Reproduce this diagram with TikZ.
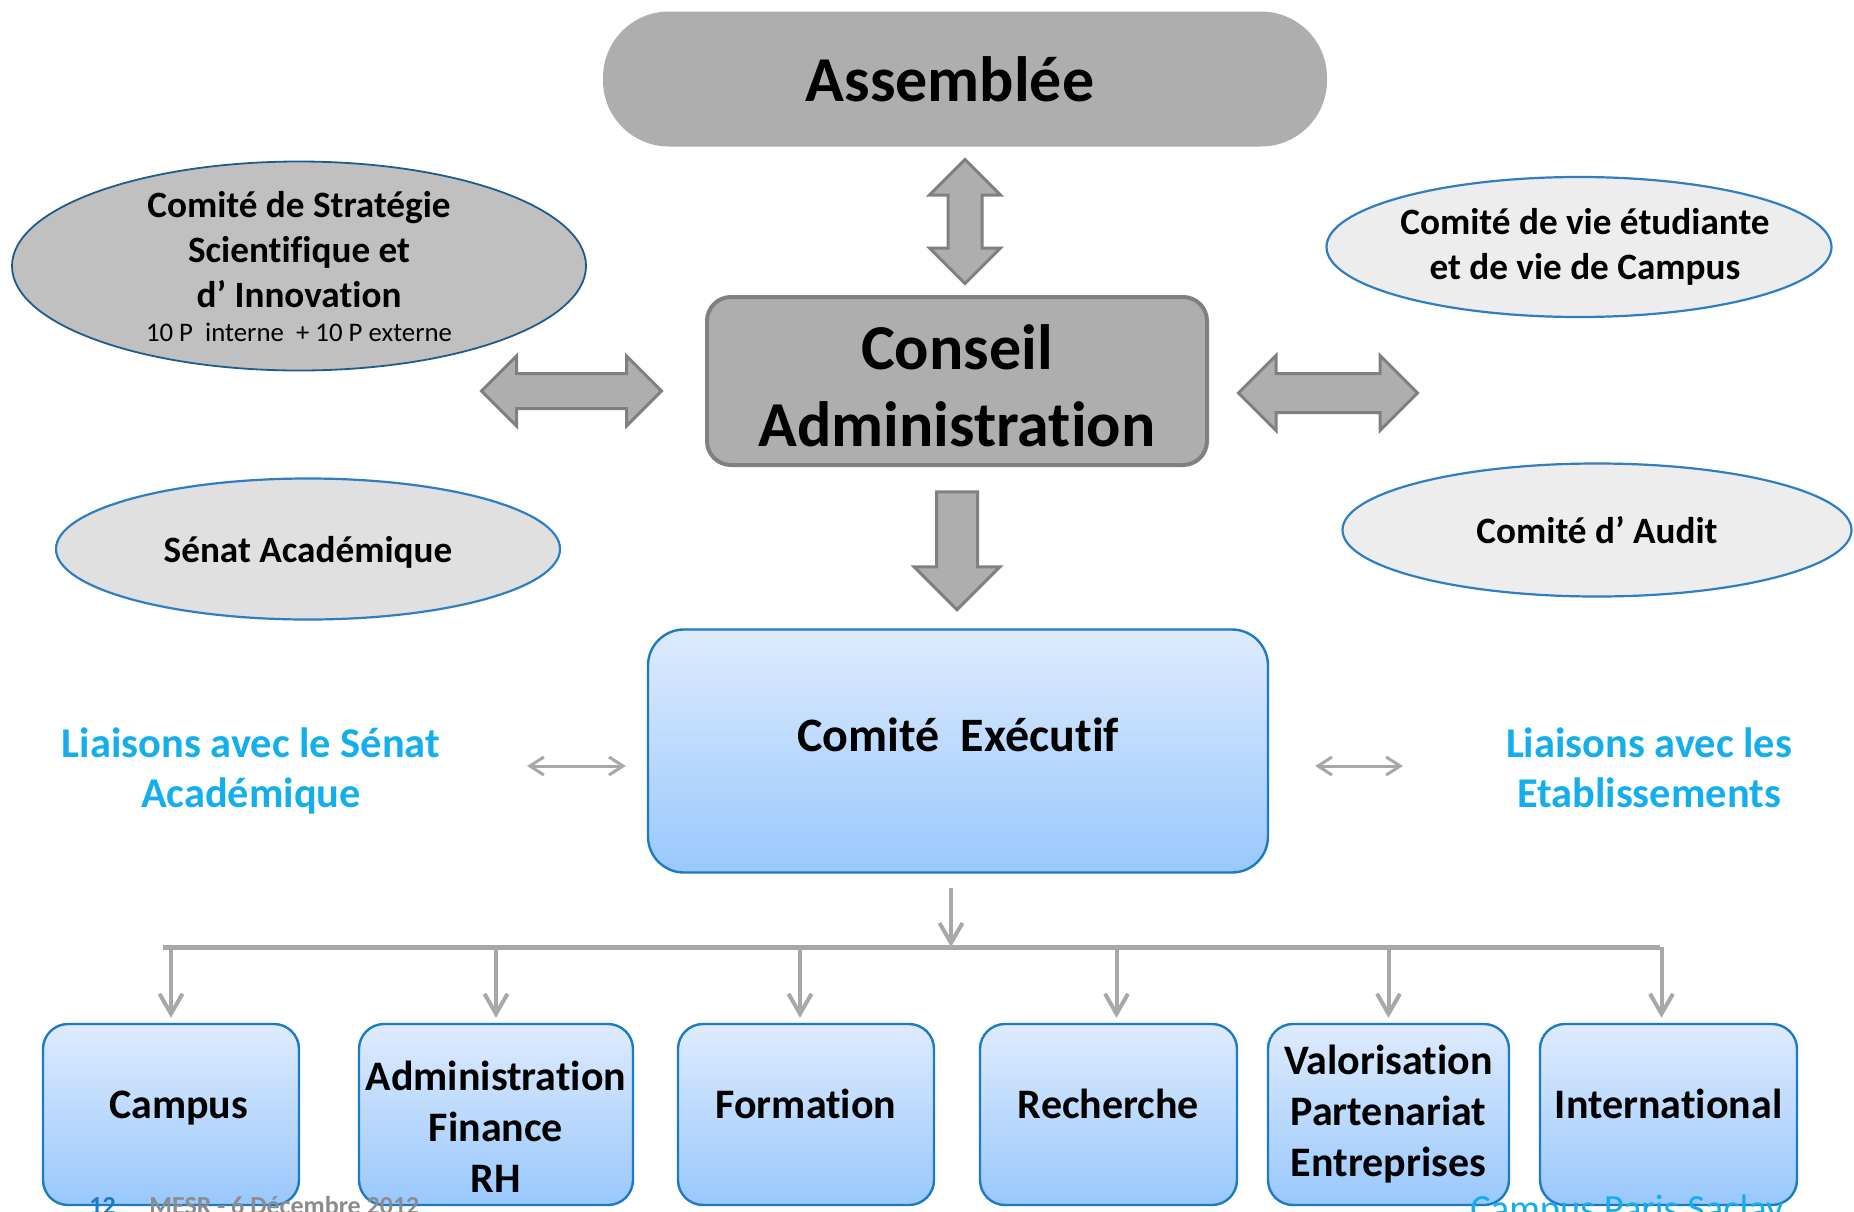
\documentclass[tikz,border=0pt]{standalone}
\usepackage{fontspec}
\setmainfont{Carlito}[Ligatures=NoCommon]
\usetikzlibrary{shapes,arrows,arrows.meta}

\definecolor{boardgray}{HTML}{AEAEAE}
\definecolor{edgegray}{HTML}{808080}
\definecolor{ovaldark}{HTML}{C0C0C0}
\definecolor{ovalmid}{HTML}{E0E0E0}
\definecolor{ovallight}{HTML}{EDEDED}
\definecolor{ovaledge}{HTML}{2E7EC0}
\definecolor{ovaledgedark}{HTML}{1F5C8C}
\definecolor{exectop}{HTML}{DEEBFD}
\definecolor{execbottom}{HTML}{99C8FD}
\definecolor{execedge}{HTML}{1C7BC4}
\definecolor{linkgray}{HTML}{A8A8A8}
\definecolor{liaisoncyan}{HTML}{14AEEC}
\definecolor{footgray}{HTML}{8C8C8C}

\begin{document}
\begin{tikzpicture}[x=0.5pt, y=-0.5pt, font=\bfseries, >={Straight Barb[length=10pt,width=11.5pt]}]
			\tikzset{
				board/.style={rectangle, rounded corners=12pt, fill=boardgray, draw=edgegray, line width=2pt, align=center, inner sep=0pt},
				oval/.style={ellipse, draw=ovaledge, line width=1.1pt, align=center, inner ysep=0pt, inner xsep=-6pt, font=\bfseries\fontsize{18.6}{22.5}\selectfont},
				execbox/.style={rectangle, rounded corners=18pt, top color=exectop, bottom color=execbottom, draw=execedge, line width=1.2pt, align=center, inner sep=0pt},
				unitbox/.style={rectangle, rounded corners=12.5pt, top color=exectop, bottom color=execbottom, draw=execedge, line width=1.2pt, minimum height=90.5pt, align=center, inner sep=0pt, text height=15pt, text depth=10.8pt, font=\bfseries\fontsize{21}{25.5}\selectfont},
				liaison/.style={text=liaisoncyan, align=center, font=\bfseries\fontsize{21.2}{25}\selectfont},
				blockarrow/.style={fill=boardgray, draw=edgegray, line width=1.5pt, inner xsep=0pt},
				link/.style={draw=linkgray, line width=2pt, ->},
				thinlink/.style={draw=linkgray, line width=1.5pt, {Straight Barb[length=7pt,width=9pt]}-{Straight Barb[length=7pt,width=9pt]}},
			}
			\useasboundingbox (0,0) rectangle (1854,1211);
			% governance
			\node[board, rounded corners=33pt, draw=none, minimum width=362pt, minimum height=67.5pt, font=\bfseries\fontsize{32}{38}\selectfont](assemblee) at (965,79){\hspace*{-15pt}Assemblée};
			\node[board, minimum width=250pt, minimum height=84pt, text height=65.5pt, text depth=0pt, font=\bfseries\fontsize{32}{38.5}\selectfont](conseil) at (957,381){Conseil\\Administration};
			\node[oval, fill=ovaldark, draw=ovaledgedark, line width=0.9pt, minimum width=287pt, minimum height=104.5pt, inner ysep=-3pt, text height=75.5pt, text depth=0pt](strategie) at (299,266){Comité de Stratégie\\Scientifique et\\d’ Innovation\\[-5.4pt]{\mdseries\fontsize{13.4}{14}\selectfont 10 P\ \ interne\ \ + 10 P externe}};
			\node[oval, fill=ovalmid, minimum width=252pt, minimum height=70.5pt](senat) at (308,549){\raisebox{-1.8pt}[\height][\depth]{Sénat Académique}};
			\node[oval, fill=ovallight, inner xsep=-9pt, minimum width=252.5pt, minimum height=70pt](vie) at (1579,247){\hspace*{6pt}Comité de vie étudiante\\\hspace*{6pt}et de vie de Campus};
			\node[oval, fill=ovallight, minimum width=254.5pt, minimum height=66.5pt](audit) at (1597,530){Comité d’ Audit};
			% executive
			\node[execbox, minimum width=310pt, minimum height=121.5pt, text depth=16pt, font=\bfseries\fontsize{24}{28}\selectfont](comex) at (958,751){Comité\ \ Exécutif};
			\node[liaison](liensenat) at (251,771){Liaisons avec le Sénat\\Académique};
			\node[liaison](lienetab) at (1649,768){Liaisons avec les\\Etablissements};
			% departments
			\node[unitbox, minimum width=128pt](campus) at (171,1114.5){\hspace*{7.7pt}Campus};
			\node[unitbox, minimum width=137pt, text height=78pt, text depth=0pt](admin) at (496,1114.5){Administration\\Finance\\RH};
			\node[unitbox, minimum width=128pt](formation) at (806,1114.5){Formation};
			\node[unitbox, minimum width=128.5pt](recherche) at (1108.5,1114.5){Recherche};
			\node[unitbox, minimum width=120.5pt, text height=62.4pt, text depth=0pt](valo) at (1388.5,1114.5){Valorisation\\Partenariat\\Entreprises};
			\node[unitbox, minimum width=128.5pt](intl) at (1668.5,1114.5){International};
			% footer
			\node[anchor=base west, inner sep=0pt, text=execedge, font=\bfseries\fontsize{13}{15}\selectfont](page) at (89,1214){12};
			\node[anchor=base west, inner sep=0pt, text=footgray, font=\bfseries\fontsize{13}{15}\selectfont](event) at (149,1214){MESR - 6 Décembre 2012};
			\node[anchor=base west, inner sep=0pt, text=liaisoncyan, font=\mdseries\fontsize{19.2}{21}\selectfont](brand) at (1470,1221){Campus Paris Saclay};
			%draw arrows
			\node[blockarrow, double arrow, rotate=90, minimum height=62pt, inner ysep=7.75pt, double arrow head extend=9.25pt](arrAC) at (965,221.5){};
			\node[blockarrow, double arrow, minimum height=90pt, inner ysep=8pt, double arrow head extend=8.75pt](arrSC) at (571.5,391){};
			\node[blockarrow, double arrow, minimum height=89.5pt, inner ysep=9pt, double arrow head extend=9pt](arrCV) at (1328,393){};
			\node[blockarrow, single arrow, rotate=-90, minimum height=59pt, inner ysep=9.5pt, single arrow head extend=11.25pt](arrCE) at (957,540.5){};
			\draw[thinlink, shorten <=40pt, shorten >=10.5pt] ([yshift=-7.5pt]comex.west -| liensenat.east) -- ([yshift=-7.5pt]comex.west);
			\draw[thinlink, shorten <=23pt, shorten >=48pt] ([yshift=-7.5pt]comex.east) -- ([yshift=-7.5pt]comex.east -| lienetab.west);
			\coordinate (hub) at (951,947);
			\draw[link, shorten <=7pt] (comex.south -| hub) -- (hub);
			\draw[draw=linkgray, line width=2.5pt] ([xshift=-4pt]campus.north |- hub) -- ([xshift=-4.5pt]intl.north |- hub);
			\foreach \unit/\dx in {campus/0, admin/0, formation/-3, recherche/4, valo/0, intl/-3.5}
				\draw[link, shorten >=2.5pt] ([xshift=\dx pt]\unit.north |- hub) -- ([xshift=\dx pt]\unit.north);
		\end{tikzpicture}
\end{document}
